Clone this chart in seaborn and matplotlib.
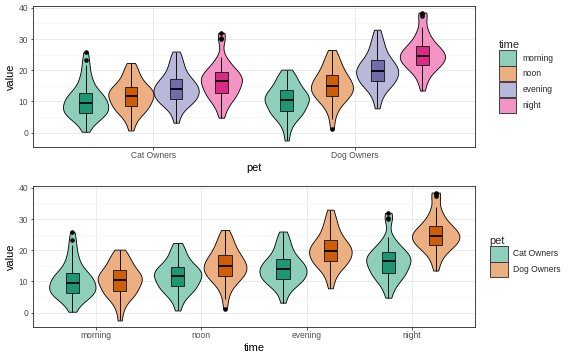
import numpy as np
import pandas as pd
import matplotlib
matplotlib.use("Agg")
import matplotlib.pyplot as plt
import seaborn as sns
from matplotlib.patches import Patch

pets = ["Cat Owners", "Dog Owners"]
times = ["morning", "noon", "evening", "night"]

cat_morning = [0.3, 2.0, 3.2, 4.0, 4.6, 5.0, 5.4, 5.7, 5.9, 6.1, 6.3,
               6.7, 7.0, 7.3, 7.6, 7.9, 8.2, 8.5, 8.8, 9.1, 9.5,
               9.8, 10.1, 10.5, 10.9, 11.2, 11.5, 11.8, 12.1, 12.4, 12.8,
               13.5, 14.2, 15.0, 16.0, 17.0, 18.2, 19.5, 21.6, 23.2, 25.8]
cat_noon = [0.7, 3.0, 4.3, 5.3, 6.0, 6.6, 7.0, 7.4, 7.8, 8.1, 8.4,
            8.8, 9.2, 9.6, 10.0, 10.4, 10.7, 11.0, 11.3, 11.6, 11.8,
            12.1, 12.4, 12.7, 13.0, 13.3, 13.6, 13.9, 14.2, 14.5, 14.7,
            15.2, 15.7, 16.3, 16.9, 17.6, 18.4, 19.2, 20.1, 21.2, 22.3]
cat_evening = [3.2, 5.5, 7.0, 8.0, 8.7, 9.2, 9.6, 9.9, 10.2, 10.5, 10.8,
               11.2, 11.5, 11.9, 12.2, 12.5, 12.8, 13.1, 13.4, 13.7, 13.9,
               14.2, 14.5, 14.8, 15.2, 15.5, 15.8, 16.2, 16.5, 16.9, 17.2,
               17.8, 18.4, 19.1, 19.8, 20.6, 21.5, 22.4, 23.4, 24.6, 26.0]
cat_night = [4.8, 6.8, 8.2, 9.3, 10.2, 10.8, 11.3, 11.7, 12.0, 12.3, 12.6,
             13.1, 13.6, 14.0, 14.4, 14.8, 15.2, 15.6, 15.9, 16.2, 16.5,
             16.8, 17.1, 17.3, 17.6, 17.9, 18.2, 18.5, 18.8, 19.0, 19.3,
             19.8, 20.3, 20.9, 21.6, 22.3, 23.1, 24.2, 30.0, 30.3, 32.0]
dog_morning = [-2.5, 0.5, 2.2, 3.4, 4.3, 5.0, 5.5, 5.9, 6.2, 6.5, 6.8,
               7.3, 7.8, 8.2, 8.6, 9.0, 9.4, 9.7, 10.0, 10.3, 10.5,
               10.8, 11.1, 11.4, 11.7, 12.0, 12.3, 12.6, 12.9, 13.3, 13.7,
               14.2, 14.7, 15.2, 15.8, 16.4, 17.0, 17.7, 18.4, 19.2, 20.2]
dog_noon = [1.3, 4.5, 6.5, 7.8, 8.8, 9.6, 10.2, 10.7, 11.0, 11.4, 11.7,
            12.1, 12.5, 12.9, 13.2, 13.5, 13.8, 14.1, 14.4, 14.7, 14.9,
            15.2, 15.5, 15.9, 16.3, 16.7, 17.1, 17.5, 17.8, 18.2, 18.5,
            19.1, 19.7, 20.3, 21.0, 21.7, 22.4, 23.2, 24.1, 25.2, 26.5]
dog_evening = [7.8, 10.2, 11.8, 13.0, 13.9, 14.6, 15.1, 15.5, 15.8, 16.1, 16.4,
               16.8, 17.2, 17.6, 18.0, 18.4, 18.7, 19.0, 19.3, 19.6, 19.8,
               20.1, 20.4, 20.7, 21.1, 21.5, 21.8, 22.2, 22.6, 22.9, 23.3,
               23.9, 24.6, 25.3, 26.1, 26.9, 27.8, 28.8, 29.9, 31.3, 33.0]
dog_night = [13.5, 15.8, 17.3, 18.4, 19.3, 20.0, 20.6, 21.0, 21.3, 21.6, 21.8,
             22.2, 22.6, 22.9, 23.2, 23.5, 23.8, 24.0, 24.3, 24.5, 24.7,
             25.0, 25.3, 25.6, 25.9, 26.2, 26.5, 26.8, 27.1, 27.5, 27.9,
             28.5, 29.1, 29.8, 30.6, 31.5, 32.6, 34.0, 37.3, 37.9, 38.5]

groups = {
    ("Cat Owners", "morning"): cat_morning,
    ("Cat Owners", "noon"): cat_noon,
    ("Cat Owners", "evening"): cat_evening,
    ("Cat Owners", "night"): cat_night,
    ("Dog Owners", "morning"): dog_morning,
    ("Dog Owners", "noon"): dog_noon,
    ("Dog Owners", "evening"): dog_evening,
    ("Dog Owners", "night"): dog_night,
}
rows = []
for (p, t), vals in groups.items():
    for v in vals:
        rows.append({"pet": p, "time": t, "value": v})
df = pd.DataFrame(rows)

dark2 = ["#1b9e77", "#d95f02", "#7570b3", "#e7298a"]

sns.set_theme(style="white")
plt.rcParams["font.family"] = ["Liberation Sans", "DejaVu Sans"]

fig = plt.figure(figsize=(8, 5), dpi=72)
ax1 = fig.add_axes([0.057, 0.592, 0.768, 0.391])
ax2 = fig.add_axes([0.057, 0.092, 0.768, 0.391])


def light(c, a=0.5):
    rgb = np.array(matplotlib.colors.to_rgb(c))
    return tuple(rgb * a + (1 - a))


def panel(ax, x, hue, order, hue_order, pal, title, anchor_x):
    ax.set_axisbelow(True)
    lpal = [light(c) for c in pal]
    sns.violinplot(data=df, x=x, y="value", hue=hue, order=order, hue_order=hue_order,
                   palette=lpal, cut=0, inner=None, width=0.9, linewidth=0.85,
                   linecolor="black", density_norm="area", bw_method="scott",
                   bw_adjust=0.8, saturation=1, legend=False, ax=ax, zorder=2)
    dpal = [tuple(np.array(matplotlib.colors.to_rgb(c)) * 0.92 + 0.02) for c in pal]
    sns.boxplot(data=df, x=x, y="value", hue=hue, order=order, hue_order=hue_order,
                palette=dpal, width=0.9, gap=0.72, linewidth=0.9, saturation=1,
                linecolor="#1a1a1a", whis=1.5,
                flierprops=dict(marker="o", markersize=3.5, markerfacecolor="black",
                                markeredgecolor="black"),
                medianprops=dict(color="black", linewidth=1.8),
                whiskerprops=dict(color="black", linewidth=0.9),
                capprops=dict(linewidth=0),
                legend=False, ax=ax, zorder=3)
    ax.set_ylim(-4.55, 40.55)
    ax.set_xlim(-0.6, len(order) - 0.4)
    ax.set_yticks([0, 10, 20, 30, 40])
    ax.set_yticks([5, 15, 25, 35], minor=True)
    ax.grid(True, which="major", color="#ebebeb", linewidth=1.0, zorder=0)
    ax.grid(True, which="minor", axis="y", color="#f3f3f3", linewidth=0.6, zorder=0)
    for s in ax.spines.values():
        s.set_color("#333333")
        s.set_linewidth(0.9)
    ax.tick_params(axis="both", which="major", length=2.5, width=0.8, color="#333333",
                   labelsize=8.5, labelcolor="#4d4d4d", pad=2, bottom=True, left=True)
    ax.tick_params(axis="both", which="minor", length=0)
    ax.set_xlabel(x, fontsize=11, color="black", labelpad=3)
    ax.set_ylabel("value", fontsize=11, color="black", labelpad=3)
    handles = [Patch(facecolor=light(c), edgecolor="#333333", linewidth=0.9) for c in pal]
    leg = ax.legend(handles, hue_order, title=title, loc="center left",
                    bbox_to_anchor=(anchor_x, 0.5), frameon=False, fontsize=8.5,
                    title_fontsize=11, handlelength=2.1, handleheight=2.4,
                    labelspacing=0.05, handletextpad=0.7, borderaxespad=0)
    leg._legend_box.align = "left"


panel(ax1, "pet", "time", pets, times, dark2, "time", 1.045)
panel(ax2, "time", "pet", times, pets, dark2[:2], "pet", 1.025)

fig.savefig("out.png", dpi=72)
